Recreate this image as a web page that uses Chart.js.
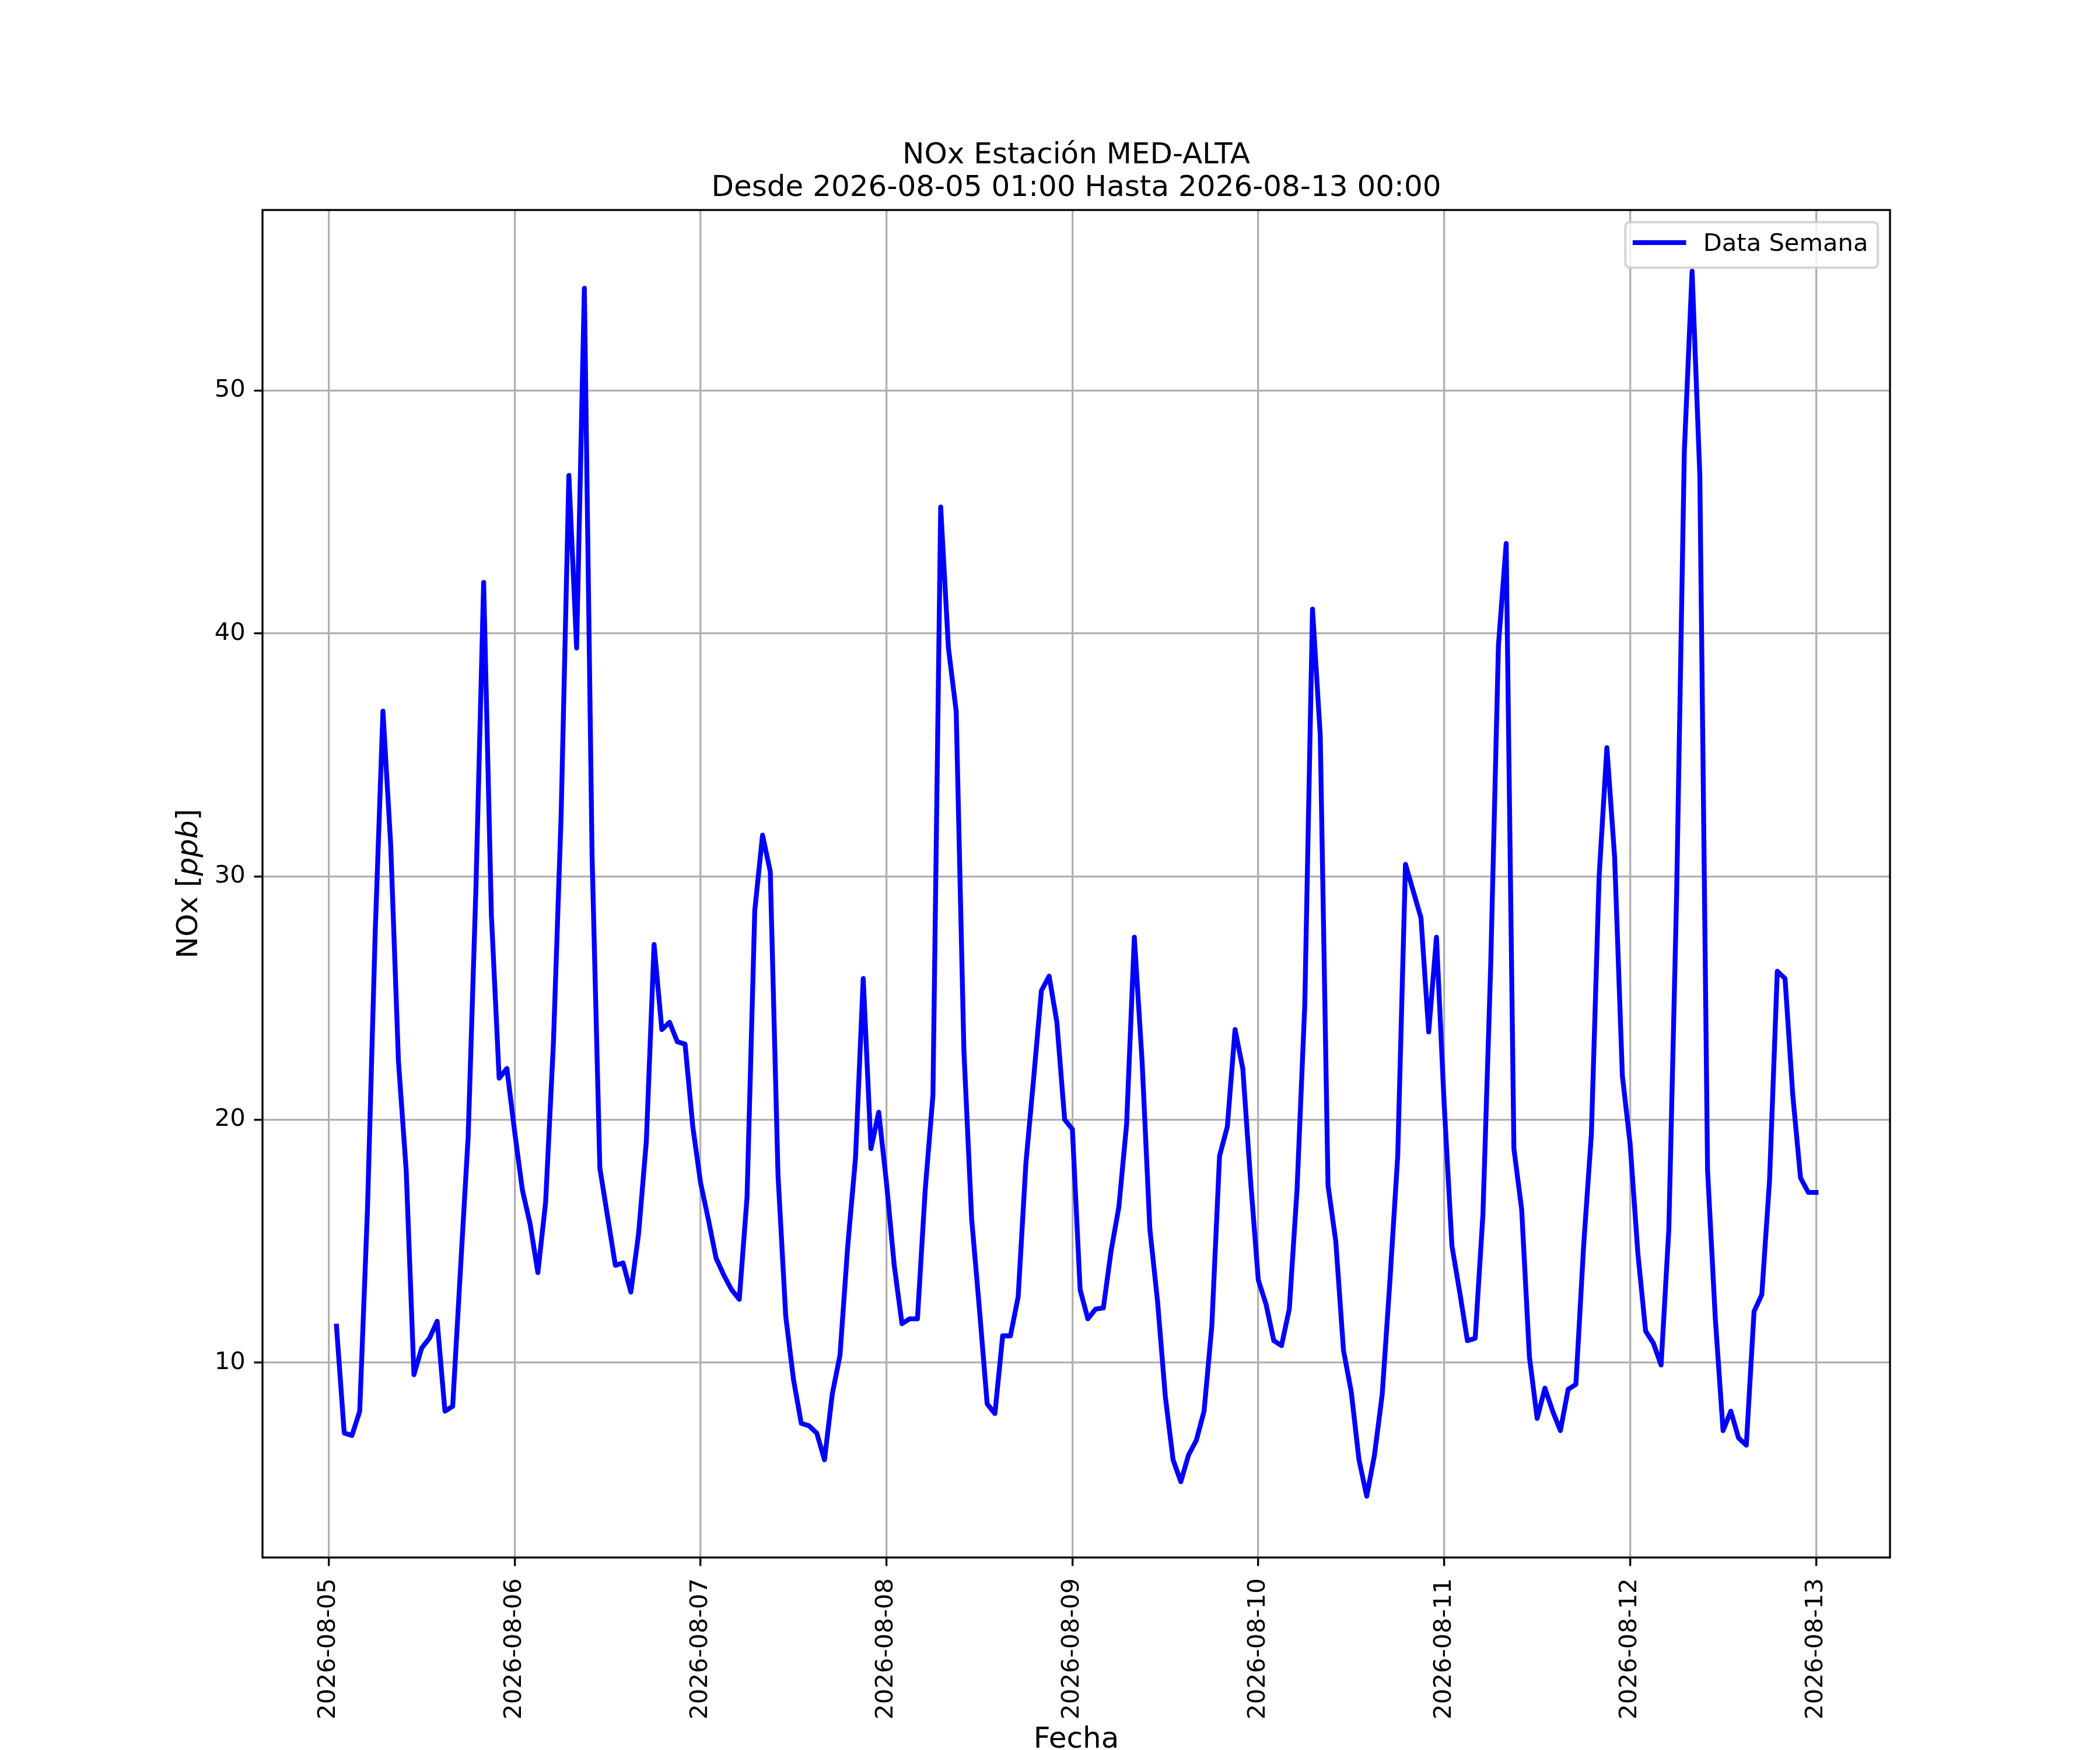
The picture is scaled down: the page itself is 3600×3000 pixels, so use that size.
<!DOCTYPE html>
<html>
<head>
<meta charset="utf-8">
<title>NOx Estación MED-ALTA</title>
<script src="https://cdn.jsdelivr.net/npm/chart.js@4.4.1/dist/chart.umd.min.js"></script>
<style>
  html, body { margin: 0; padding: 0; background: #ffffff; }
  canvas { display: block; }
</style>
</head>
<body>
<canvas id="myChart" width="3600" height="3000" style="width:3600px;height:3000px"></canvas>
<script>
// tick labels on the date axis (one per day, value = days since 2026-08-05 00:00)
const dayLabels = ['2026-08-05', '2026-08-06', '2026-08-07', '2026-08-08', '2026-08-09',
                   '2026-08-10', '2026-08-11', '2026-08-12', '2026-08-13'];
const yTicks = [10, 20, 30, 40, 50];

// hourly NOx [ppb], first sample 2026-08-05 01:00
const firstHour = 1;
const day05 = [11.5, 7.1, 7.0, 8.0, 16.3, 27.7, 36.8, 31.3, 22.4, 17.9, 9.5, 10.6,
               11.0, 11.7, 8.0, 8.2, 13.8, 19.3, 29.5, 42.1, 28.4, 21.7, 22.1, 19.5];
const day06 = [17.1, 15.7, 13.7, 16.6, 23.1, 32.5, 46.5, 39.4, 54.2, 30.8, 18.0, 16.0,
               14.0, 14.1, 12.9, 15.3, 19.1, 27.2, 23.7, 24.0, 23.2, 23.1, 19.7, 17.4];
const day07 = [15.9, 14.3, 13.6, 13.0, 12.6, 16.8, 28.6, 31.7, 30.2, 17.7, 11.9, 9.3,
               7.5, 7.4, 7.1, 6.0, 8.7, 10.3, 14.8, 18.4, 25.8, 18.8, 20.3, 17.4];
const day08 = [14.0, 11.6, 11.8, 11.8, 17.1, 21.0, 45.2, 39.4, 36.8, 22.8, 15.9, 12.2,
               8.3, 7.9, 11.1, 11.1, 12.7, 18.2, 21.7, 25.3, 25.9, 24.0, 20.0, 19.6];
const day09 = [13.0, 11.8, 12.2, 12.25, 14.6, 16.4, 19.8, 27.5, 22.4, 15.5, 12.5, 8.6,
               6.0, 5.1, 6.2, 6.8, 8.0, 11.5, 18.5, 19.7, 23.7, 22.1, 17.5, 13.4];
const day10 = [12.4, 10.9, 10.7, 12.2, 17.1, 24.7, 41.0, 35.8, 17.3, 15.0, 10.5, 8.8,
               6.0, 4.5, 6.2, 8.7, 13.4, 18.5, 30.5, 29.4, 28.3, 23.6, 27.5, 20.6];
const day11 = [14.8, 12.9, 10.9, 11.0, 16.1, 26.3, 39.5, 43.7, 18.8, 16.3, 10.25, 7.7,
               8.95, 8.0, 7.2, 8.9, 9.1, 14.8, 19.4, 30.0, 35.3, 30.8, 21.8, 19.0];
const day12 = [14.5, 11.3, 10.8, 9.9, 15.5, 29.2, 47.5, 54.9, 46.5, 17.9, 11.8, 7.2,
               8.0, 6.9, 6.6, 12.1, 12.8, 17.5, 26.1, 25.8, 21.0, 17.6, 17.0, 17.0];

const noxValues = [].concat(day05, day06, day07, day08, day09, day10, day11, day12);

// matplotlib-ish sizing: points -> pixels at 300 dpi
const PT = 300 / 72;
const FONT = '"DejaVu Sans", "Liberation Sans", sans-serif';

const points = noxValues.map((v, i) => ({ x: (firstHour + i) / 24, y: v }));

// 5% margins like matplotlib autoscale
const xFirst = points[0].x, xLast = points[points.length - 1].x;
const xPad = 0.05 * (xLast - xFirst);
const yLo = Math.min(...noxValues), yHi = Math.max(...noxValues);
const yPad = 0.05 * (yHi - yLo);

function roundedRect(ctx, x, y, w, h, r) {
    ctx.beginPath();
    ctx.moveTo(x + r, y);
    ctx.lineTo(x + w - r, y);
    ctx.quadraticCurveTo(x + w, y, x + w, y + r);
    ctx.lineTo(x + w, y + h - r);
    ctx.quadraticCurveTo(x + w, y + h, x + w - r, y + h);
    ctx.lineTo(x + r, y + h);
    ctx.quadraticCurveTo(x, y + h, x, y + h - r);
    ctx.lineTo(x, y + r);
    ctx.quadraticCurveTo(x, y, x + r, y);
    ctx.closePath();
}

// frame, legend, titles and axis labels
const decorations = {
    id: 'decorations',
    afterDatasetsDraw(chart) {
        const ctx = chart.ctx;
        const a = chart.chartArea;
        ctx.save();

        // spines
        ctx.strokeStyle = '#000000';
        ctx.lineWidth = 0.8 * PT;
        ctx.strokeRect(a.left, a.top, a.right - a.left, a.bottom - a.top);

        // legend box (upper right)
        const fs = 10 * PT;
        ctx.font = fs + 'px ' + FONT;
        const label = chart.data.datasets[0].label;
        const textW = ctx.measureText(label).width;
        const boxW = 0.4 * fs + 2.0 * fs + 0.8 * fs + textW + 0.4 * fs;
        const boxH = 78;
        const boxR = a.right - 0.5 * fs;
        const boxL = boxR - boxW;
        const boxT = a.top + 0.5 * fs;
        roundedRect(ctx, boxL, boxT, boxW, boxH, 0.2 * fs);
        ctx.fillStyle = 'rgba(255,255,255,0.8)';
        ctx.fill();
        ctx.strokeStyle = 'rgba(204,204,204,0.8)';
        ctx.lineWidth = 1.0 * PT;
        ctx.stroke();

        const hx = boxL + 0.4 * fs;
        ctx.beginPath();
        ctx.moveTo(hx, boxT + 35);
        ctx.lineTo(hx + 2.0 * fs, boxT + 35);
        ctx.strokeStyle = '#0000ff';
        ctx.lineWidth = 2 * PT;
        ctx.lineCap = 'square';
        ctx.stroke();

        ctx.fillStyle = '#000000';
        ctx.textAlign = 'left';
        ctx.textBaseline = 'alphabetic';
        ctx.fillText(label, hx + 2.8 * fs, boxT + 49);
        ctx.restore();
    },
    afterDraw(chart) {
        const ctx = chart.ctx;
        const a = chart.chartArea;
        const cx = (a.left + a.right) / 2;
        const cy = (a.top + a.bottom) / 2;
        const big = 12 * PT;
        ctx.save();
        ctx.fillStyle = '#000000';
        ctx.textBaseline = 'alphabetic';
        ctx.textAlign = 'center';
        ctx.font = big + 'px ' + FONT;
        ctx.fillText('NOx Estación MED-ALTA', cx, 280);
        ctx.fillText('Desde 2026-08-05 01:00 Hasta 2026-08-13 00:00', cx, 336);
        ctx.fillText('Fecha', cx, 2996);

        // y label: "NOx [" + italic "ppb" + "]"
        const parts = [
            { t: 'NOx [', f: big + 'px ' + FONT },
            { t: 'ppb', f: 'oblique ' + big + 'px ' + FONT },
            { t: ']', f: big + 'px ' + FONT }
        ];
        let total = 0;
        parts.forEach(p => { ctx.font = p.f; p.w = ctx.measureText(p.t).width; total += p.w; });
        ctx.translate(338, cy);
        ctx.rotate(-Math.PI / 2);
        ctx.textAlign = 'left';
        let px = -total / 2;
        parts.forEach(p => { ctx.font = p.f; ctx.fillText(p.t, px, 0); px += p.w; });
        ctx.restore();
    }
};

const tickFont = { family: FONT, size: 10 * PT };
const gridStyle = {
    color: '#b0b0b0',
    lineWidth: 0.8 * PT,
    tickColor: '#000000',
    tickWidth: 0.8 * PT,
    tickLength: 3.5 * PT
};

const ctx = document.getElementById('myChart').getContext('2d');
const myChart = new Chart(ctx, {
    type: 'line',
    data: {
        datasets: [{
            label: 'Data Semana',
            data: points,
            borderColor: '#0000ff',
            backgroundColor: '#0000ff',
            borderWidth: 2 * PT,
            borderJoinStyle: 'round',
            borderCapStyle: 'square',
            pointRadius: 0,
            tension: 0,
            fill: false
        }]
    },
    options: {
        responsive: false,
        devicePixelRatio: 1,
        animation: false,
        events: [],
        layout: { padding: { left: 0, top: 360, right: 360, bottom: 0 } },
        plugins: {
            legend: { display: false },
            title: { display: false },
            tooltip: { enabled: false }
        },
        scales: {
            x: {
                type: 'linear',
                min: xFirst - xPad,
                max: xLast + xPad,
                afterBuildTicks: function(scale) {
                    scale.ticks = dayLabels.map((_, i) => ({ value: i }));
                },
                afterFit: function(scale) { scale.height = 330; },
                ticks: {
                    autoSkip: false,
                    minRotation: 90,
                    maxRotation: 90,
                    padding: 21,
                    color: '#000000',
                    font: tickFont,
                    callback: function(value) { return dayLabels[value]; }
                },
                grid: gridStyle,
                border: { display: false }
            },
            y: {
                type: 'linear',
                min: yLo - yPad,
                max: yHi + yPad,
                afterBuildTicks: function(scale) {
                    scale.ticks = yTicks.map(v => ({ value: v }));
                },
                afterFit: function(scale) { scale.width = 450; },
                ticks: {
                    padding: 3.5 * PT,
                    color: '#000000',
                    font: tickFont,
                    callback: function(value) { return String(value); }
                },
                grid: gridStyle,
                border: { display: false }
            }
        }
    },
    plugins: [decorations]
});
</script>
</body>
</html>
